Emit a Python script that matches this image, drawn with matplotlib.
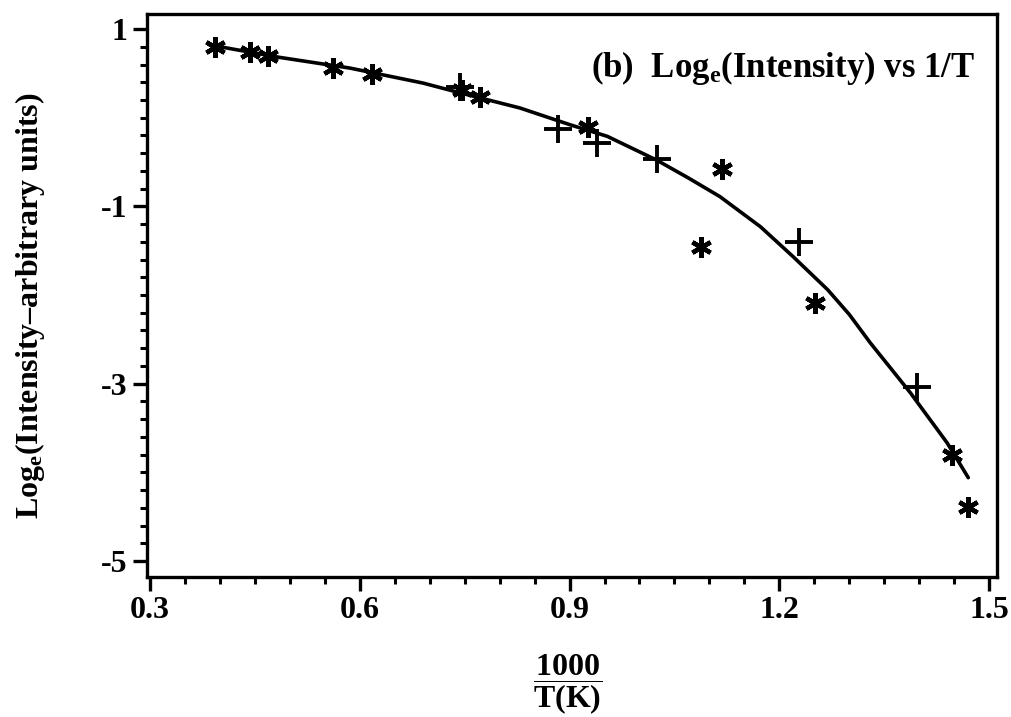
import matplotlib.pyplot as plt
from matplotlib.ticker import MultipleLocator
import numpy as np

plt.rcParams['font.family'] = 'Liberation Serif'
plt.rcParams['font.weight'] = 'bold'
plt.rcParams['mathtext.fontset'] = 'custom'
plt.rcParams['mathtext.rm'] = 'Liberation Serif:bold'
plt.rcParams['mathtext.it'] = 'Liberation Serif:bold'
plt.rcParams['mathtext.bf'] = 'Liberation Serif:bold'
plt.rcParams['mathtext.default'] = 'regular'
plt.rcParams['axes.unicode_minus'] = False

# asterisk points
star_x = [0.393, 0.443, 0.469, 0.562, 0.618, 0.746, 0.772, 0.927, 1.118, 1.088, 1.251, 1.447, 1.470]
star_y = [0.80, 0.74, 0.70, 0.56, 0.49, 0.31, 0.23, -0.10, -0.58, -1.46, -2.09, -3.80, -4.39]

# plus points
plus_x = [0.743, 0.884, 0.939, 1.025, 1.228, 1.397]
plus_y = [0.35, -0.13, -0.29, -0.47, -1.40, -3.04]

# fitted curve
fit_x = [0.386, 0.486, 0.586, 0.691, 0.739, 0.829, 0.901, 0.954, 1.025, 1.070, 1.115,
         1.173, 1.220, 1.269, 1.300, 1.330, 1.387, 1.440, 1.470]
fit_y = [0.82, 0.68, 0.56, 0.39, 0.29, 0.11, -0.08, -0.21, -0.48, -0.68, -0.89,
         -1.23, -1.57, -1.94, -2.22, -2.54, -3.10, -3.67, -4.06]

xticks = [0.3, 0.6, 0.9, 1.2, 1.5]
xticklabels = ['0.3', '0.6', '0.9', '1.2', '1.5']
yticks = [1, -1, -3, -5]

fig = plt.figure(figsize=(10.11, 7.17), dpi=100)
ax = fig.add_axes([0.1454, 0.1953, 0.8407, 0.7852])

ax.plot(fit_x, fit_y, color='black', lw=2.6, solid_capstyle='round', solid_joinstyle='round')
ax.plot(star_x, star_y, ls='none', marker=(6, 2, 0), ms=15, mew=3.2, color='black')
ax.plot(plus_x, plus_y, ls='none', marker='+', ms=20, mew=2.8, color='black')

ax.set_xlim(0.296, 1.511)
ax.set_ylim(-5.18, 1.17)
ax.set_xticks(xticks)
ax.set_xticklabels(xticklabels)
ax.set_yticks(yticks)
ax.xaxis.set_minor_locator(MultipleLocator(0.05))
ax.yaxis.set_minor_locator(MultipleLocator(0.2))

for s in ax.spines.values():
    s.set_linewidth(2.4)
ax.tick_params(which='major', direction='out', length=10, width=2.4, labelsize=23, pad=4)
ax.tick_params(which='minor', direction='out', length=5, width=2.2)

ax.text(0.974, 0.904, '(b)  Log$_e$(Intensity) vs 1/T', transform=ax.transAxes,
        ha='right', va='center', fontsize=25)

fig.text(0.030, 0.573, 'Log$_e$(Intensity\u2013arbitrary units)', rotation=90,
         ha='center', va='center', fontsize=23)

fig.text(0.562, 0.045, r'$\dfrac{1000}{T(K)}$', ha='center', va='center', fontsize=23)

fig.savefig('out.png', dpi=100)
